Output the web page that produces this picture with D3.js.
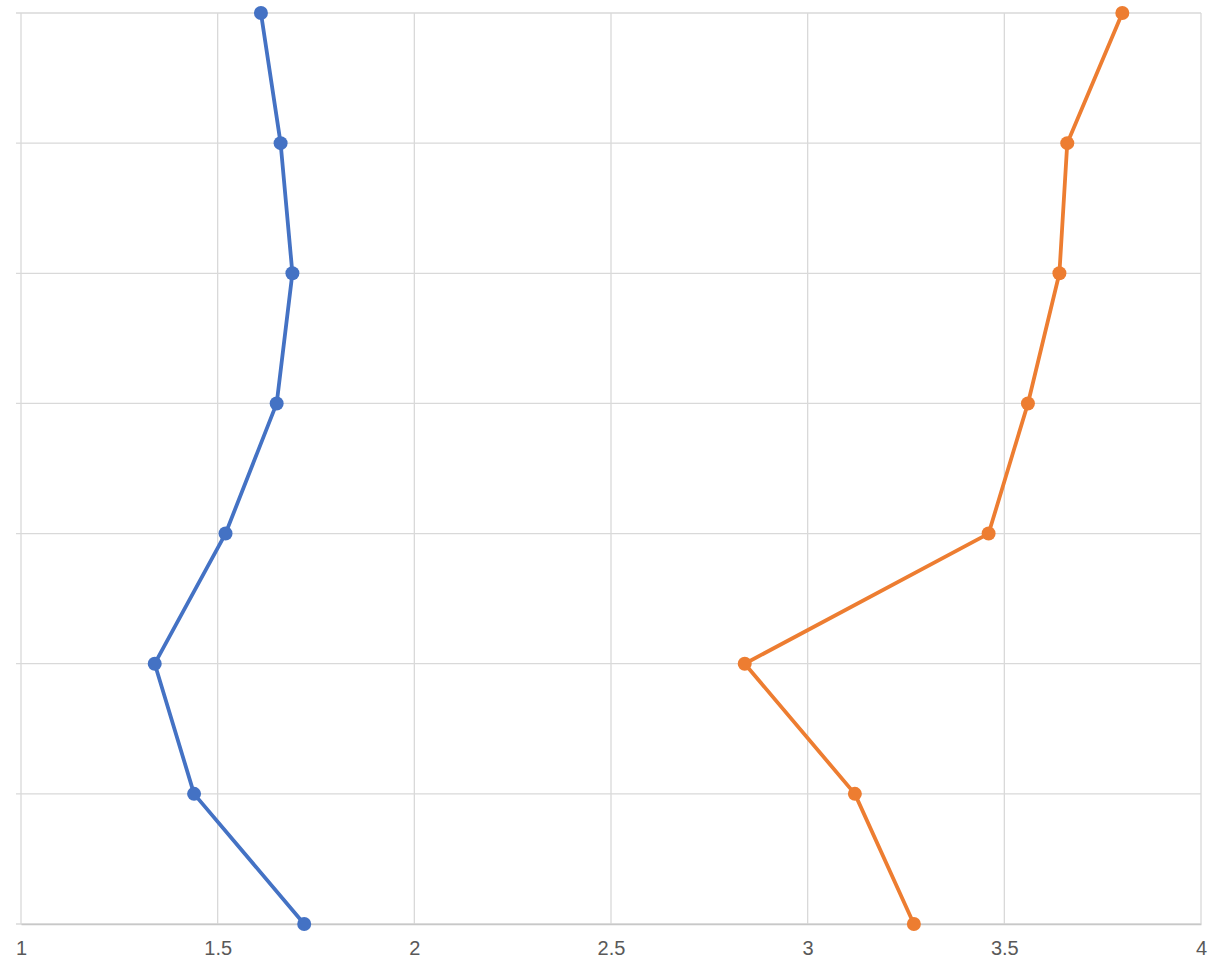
<!DOCTYPE html>
<html>
<head>
<meta charset="utf-8">
<script src="https://cdn.jsdelivr.net/npm/d3@7"></script>
<style>
  html, body { margin: 0; padding: 0; background: #ffffff; }
  svg { display: block; }
</style>
</head>
<body>
<svg id="chart" width="1209" height="965"></svg>
<script>
// Vertical profile: each row is one level, top to bottom
const levels = [1, 2, 3, 4, 5, 6, 7, 8];
const seriesA = [1.61, 1.66, 1.69, 1.65, 1.52, 1.34, 1.44, 1.72];
const seriesB = [3.80, 3.66, 3.64, 3.56, 3.46, 2.84, 3.12, 3.27];
const xTicks = [1, 1.5, 2, 2.5, 3, 3.5, 4];
const xTickLabels = ["1", "1.5", "2", "2.5", "3", "3.5", "4"];

const svg = d3.select("#chart");
const margin = { top: 13, right: 8, bottom: 41, left: 21 };
const W = 1209, H = 965;
const innerW = W - margin.left - margin.right;
const innerH = H - margin.top - margin.bottom;

const g = svg.append("g").attr("transform", `translate(${margin.left},${margin.top})`);

const x = d3.scaleLinear().domain([1, 4]).range([0, innerW]);
const y = d3.scalePoint().domain(levels).range([0, innerH]);

// vertical gridlines
g.append("g")
  .selectAll("line")
  .data(xTicks)
  .join("line")
  .attr("x1", d => x(d)).attr("x2", d => x(d))
  .attr("y1", 0).attr("y2", innerH)
  .attr("stroke", "#d9d9d9").attr("stroke-width", 1.3);

// horizontal gridlines at each level, with short tick stubs on the left
g.append("g")
  .selectAll("line")
  .data(levels)
  .join("line")
  .attr("x1", -5).attr("x2", innerW)
  .attr("y1", d => y(d)).attr("y2", d => y(d))
  .attr("stroke", "#d9d9d9").attr("stroke-width", 1.3);

// bottom axis
const xAxis = d3.axisBottom(x)
  .tickValues(xTicks)
  .tickFormat((d, i) => xTickLabels[i])
  .tickSize(0)
  .tickPadding(17);
const axisG = g.append("g")
  .attr("transform", `translate(0,${innerH})`)
  .call(xAxis);
axisG.select(".domain").attr("stroke", "#c8c8c8").attr("stroke-width", 1.5);
axisG.selectAll("text")
  .attr("fill", "#595959")
  .style("font-family", "'Liberation Sans', Arial, sans-serif")
  .style("font-size", "20px");

const line = d3.line()
  .x(d => x(d.v))
  .y(d => y(d.level));

function drawSeries(values, color) {
  const pts = values.map((v, i) => ({ v, level: levels[i] }));
  g.append("path")
    .datum(pts)
    .attr("fill", "none")
    .attr("stroke", color)
    .attr("stroke-width", 3.8)
    .attr("stroke-linejoin", "round")
    .attr("d", line);
  g.append("g")
    .selectAll("circle")
    .data(pts)
    .join("circle")
    .attr("cx", d => x(d.v))
    .attr("cy", d => y(d.level))
    .attr("r", 7)
    .attr("fill", color);
}

drawSeries(seriesA, "#4472c4");
drawSeries(seriesB, "#ed7d31");
</script>
</body>
</html>
